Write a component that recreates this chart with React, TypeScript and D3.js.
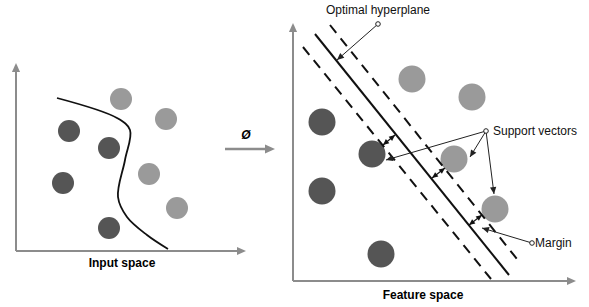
import React from 'react';
import * as d3 from 'd3';

// left panel: input space (data units, origin at the axis corner)
const inputPoints = [
  { x: 105, y: 152, cls: 'b' },
  { x: 150, y: 132, cls: 'b' },
  { x: 53, y: 120, cls: 'a' },
  { x: 93, y: 103, cls: 'a' },
  { x: 133, y: 77, cls: 'b' },
  { x: 47, y: 68, cls: 'a' },
  { x: 161, y: 43, cls: 'b' },
  { x: 93, y: 23, cls: 'a' },
];
const boundaryCurve = [
  [41, 153], [101, 133], [114, 121], [109, 91], [102, 54], [111, 34], [131, 16], [152, 2],
];

// right panel: feature space
const featurePoints = [
  { x: 29, y: 159, cls: 'a' },
  { x: 119, y: 202, cls: 'b' },
  { x: 179, y: 184, cls: 'b' },
  { x: 79, y: 127, cls: 'a' },
  { x: 161, y: 122, cls: 'b' },
  { x: 29, y: 90, cls: 'a' },
  { x: 202, y: 72, cls: 'b' },
  { x: 88, y: 27, cls: 'a' },
];
const hyperplane = [[22, 247], [216, 6]];
const marginLower = [[10, 234], [198, 2]];
const marginUpper = [[37, 256], [228, 17]];
const marginArrows = [
  [[90, 136], [102, 146]],
  [[139, 103], [152, 113]],
  [[176, 56], [189, 66]],
];
const hyperplaneNote = { dot: [85, 257], to: [[44, 221]], label: 'Optimal hyperplane' };
const supportNote = { dot: [193, 150], to: [[93, 121], [177, 124], [201, 87]], label: 'Support vectors' };
const marginNote = { dot: [239, 38], to: [[189, 53]], label: 'Margin' };

const DARK = '#555555';
const LIGHT = '#9a9a9a';
const AXIS = '#8c8c8c';
const FONT = '"Liberation Sans", Arial, sans-serif';

const xL = d3.scaleLinear().domain([0, 230]).range([16, 246]);
const yL = d3.scaleLinear().domain([0, 188]).range([251, 63]);
const xR = d3.scaleLinear().domain([0, 283]).range([293, 576]);
const yR = d3.scaleLinear().domain([0, 258]).range([281, 23]);

function arrowHead(x1, y1, x2, y2, size, fill) {
  const a = Math.atan2(y2 - y1, x2 - x1);
  const w = size * 0.45;
  const bx = x2 - size * Math.cos(a);
  const by = y2 - size * Math.sin(a);
  const pts = [
    [x2, y2],
    [bx + w * Math.sin(a), by - w * Math.cos(a)],
    [bx - w * Math.sin(a), by + w * Math.cos(a)],
  ];
  return <polygon points={pts.map(p => p.join(',')).join(' ')} fill={fill} />;
}

function Note({ note }) {
  const [dx, dy] = [xR(note.dot[0]), yR(note.dot[1])];
  return (
    <g>
      {note.to.map((t, i) => {
        const tx = xR(t[0]), ty = yR(t[1]);
        return (
          <g key={i}>
            <line x1={dx} y1={dy} x2={tx} y2={ty} stroke="#222" strokeWidth={1} />
            {arrowHead(dx, dy, tx, ty, 7, '#222')}
          </g>
        );
      })}
      <circle cx={dx} cy={dy} r={2.3} fill="#fff" stroke="#222" strokeWidth={1} />
    </g>
  );
}

export default function App() {
  const curve = d3.line().x(d => xL(d[0])).y(d => yL(d[1])).curve(d3.curveCatmullRom.alpha(0.5));
  const lineR = d3.line().x(d => xR(d[0])).y(d => yR(d[1]));

  return (
    <svg width={589} height={307} style={{ position: 'absolute', left: 0, top: 0, background: '#fff' }}>
      {/* left axes */}
      <line x1={xL(0)} y1={yL(0)} x2={xL(0)} y2={yL(180)} stroke={AXIS} strokeWidth={2} />
      {arrowHead(xL(0), yL(0), xL(0), yL(188), 9, AXIS)}
      <line x1={xL(0)} y1={yL(0)} x2={xL(222)} y2={yL(0)} stroke={AXIS} strokeWidth={2} />
      {arrowHead(xL(0), yL(0), xL(230), yL(0), 9, AXIS)}

      <path d={curve(boundaryCurve)} fill="none" stroke="#111" strokeWidth={1.8} />
      {inputPoints.map((p, i) => (
        <circle key={i} cx={xL(p.x)} cy={yL(p.y)} r={11} fill={p.cls === 'a' ? DARK : LIGHT} />
      ))}
      <text x={xL(106)} y={267} textAnchor="middle" fontFamily={FONT} fontWeight="bold" fontSize={12}>Input space</text>

      {/* mapping arrow */}
      <line x1={225} y1={149} x2={266} y2={149} stroke={AXIS} strokeWidth={2.5} />
      {arrowHead(225, 149, 275, 149, 10, AXIS)}
      <text x={246} y={139} textAnchor="middle" fontFamily={FONT} fontWeight="bold" fontStyle="italic" fontSize={12}>Ø</text>

      {/* right axes */}
      <line x1={xR(0)} y1={yR(0)} x2={xR(0)} y2={yR(250)} stroke={AXIS} strokeWidth={2} />
      {arrowHead(xR(0), yR(0), xR(0), yR(258), 9, AXIS)}
      <line x1={xR(0)} y1={yR(0)} x2={xR(275)} y2={yR(0)} stroke={AXIS} strokeWidth={2} />
      {arrowHead(xR(0), yR(0), xR(283), yR(0), 9, AXIS)}

      {featurePoints.map((p, i) => (
        <circle key={i} cx={xR(p.x)} cy={yR(p.y)} r={13.5} fill={p.cls === 'a' ? DARK : LIGHT} />
      ))}

      <path d={lineR(hyperplane)} stroke="#111" strokeWidth={2} fill="none" />
      <path d={lineR(marginLower)} stroke="#111" strokeWidth={2} strokeDasharray="10,7" fill="none" />
      <path d={lineR(marginUpper)} stroke="#111" strokeWidth={2} strokeDasharray="10,7" fill="none" />

      {marginArrows.map((m, i) => {
        const x1 = xR(m[0][0]), y1 = yR(m[0][1]), x2 = xR(m[1][0]), y2 = yR(m[1][1]);
        return (
          <g key={i}>
            <line x1={x1} y1={y1} x2={x2} y2={y2} stroke="#111" strokeWidth={1.2} />
            {arrowHead(x1, y1, x2, y2, 6, '#111')}
            {arrowHead(x2, y2, x1, y1, 6, '#111')}
          </g>
        );
      })}

      <Note note={hyperplaneNote} />
      <Note note={supportNote} />
      <Note note={marginNote} />

      <text x={xR(85)} y={14} textAnchor="middle" fontFamily={FONT} fontSize={12} fill="#111">{hyperplaneNote.label}</text>
      <text x={xR(200)} y={yR(150) + 4} fontFamily={FONT} fontSize={12} fill="#111">{supportNote.label}</text>
      <text x={xR(242)} y={yR(38) + 4} fontFamily={FONT} fontSize={12} fill="#111">{marginNote.label}</text>
      <text x={xR(130)} y={299} textAnchor="middle" fontFamily={FONT} fontWeight="bold" fontSize={12}>Feature space</text>
    </svg>
  );
}
